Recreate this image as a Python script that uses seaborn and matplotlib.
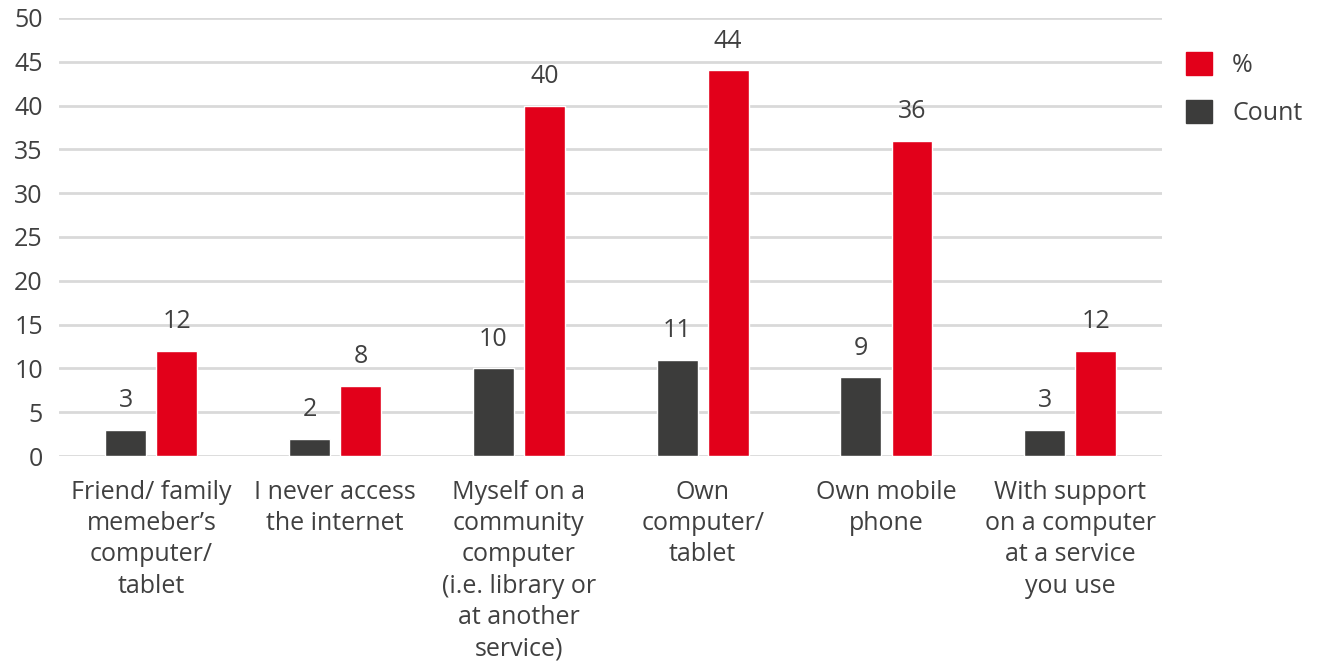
import numpy as np
import pandas as pd
import matplotlib
matplotlib.use("Agg")
import matplotlib.pyplot as plt
import seaborn as sns
from matplotlib.patches import Patch

# ---------------------
# Data
# ---------------------
categories = [
    "Friend/ family\nmemeber\u2019s\ncomputer/\ntablet",
    "I never access\nthe internet",
    "Myself on a\ncommunity\ncomputer\n(i.e. library or\nat another\nservice)",
    "Own\ncomputer/\ntablet",
    "Own mobile\nphone",
    "With support\non a computer\nat a service\nyou use",
]
count_values = [3, 2, 10, 11, 9, 3]
pct_values = [12, 8, 40, 44, 36, 12]
series_names = ["Count", "%"]

RED = "#e2001a"
DARK = "#3c3c3b"
TEXT = "#404040"
GRID = "#d9d9d9"

df = pd.DataFrame({
    "category": categories * 2,
    "series": ["Count"] * len(categories) + ["%"] * len(categories),
    "value": count_values + pct_values,
})

sns.set_theme(style="white")
plt.rcParams["font.family"] = ["Open Sans", "DejaVu Sans"]

fig = plt.figure(figsize=(13.22, 6.62), dpi=100)
ax = fig.add_axes([0.045, 0.311, 0.834, 0.662])

sns.barplot(data=df, x="category", y="value", hue="series",
            hue_order=series_names, order=categories,
            palette={"Count": DARK, "%": RED},
            width=0.556, gap=0.2, ax=ax, legend=False, saturation=1)

for container in ax.containers:
    ax.bar_label(container, fmt="%g", padding=12, fontsize=18, color=TEXT)

ax.set_ylim(0, 50)
ax.set_yticks(np.arange(0, 51, 5))
ax.set_xlim(-0.5, len(categories) - 0.5)
ax.yaxis.grid(True, color=GRID, linewidth=2)
ax.set_axisbelow(True)
for s in ax.spines.values():
    s.set_visible(False)
ax.set_xlabel("")
ax.set_ylabel("")
ax.tick_params(axis="both", length=0, labelsize=18, labelcolor=TEXT)
ax.tick_params(axis="y", pad=12)
ax.tick_params(axis="x", pad=17)
for lbl in ax.get_xticklabels():
    lbl.set_linespacing(1.33)
    lbl.set_verticalalignment("top")

handles = [Patch(color=RED, label="%"), Patch(color=DARK, label="Count")]
fig.legend(handles=handles, loc="upper left", bbox_to_anchor=(0.88, 0.955),
           frameon=False, fontsize=18, labelcolor=TEXT,
           handlelength=1.05, handleheight=1.05, handletextpad=0.8,
           labelspacing=0.85)

fig.savefig("out.png", dpi=100)
